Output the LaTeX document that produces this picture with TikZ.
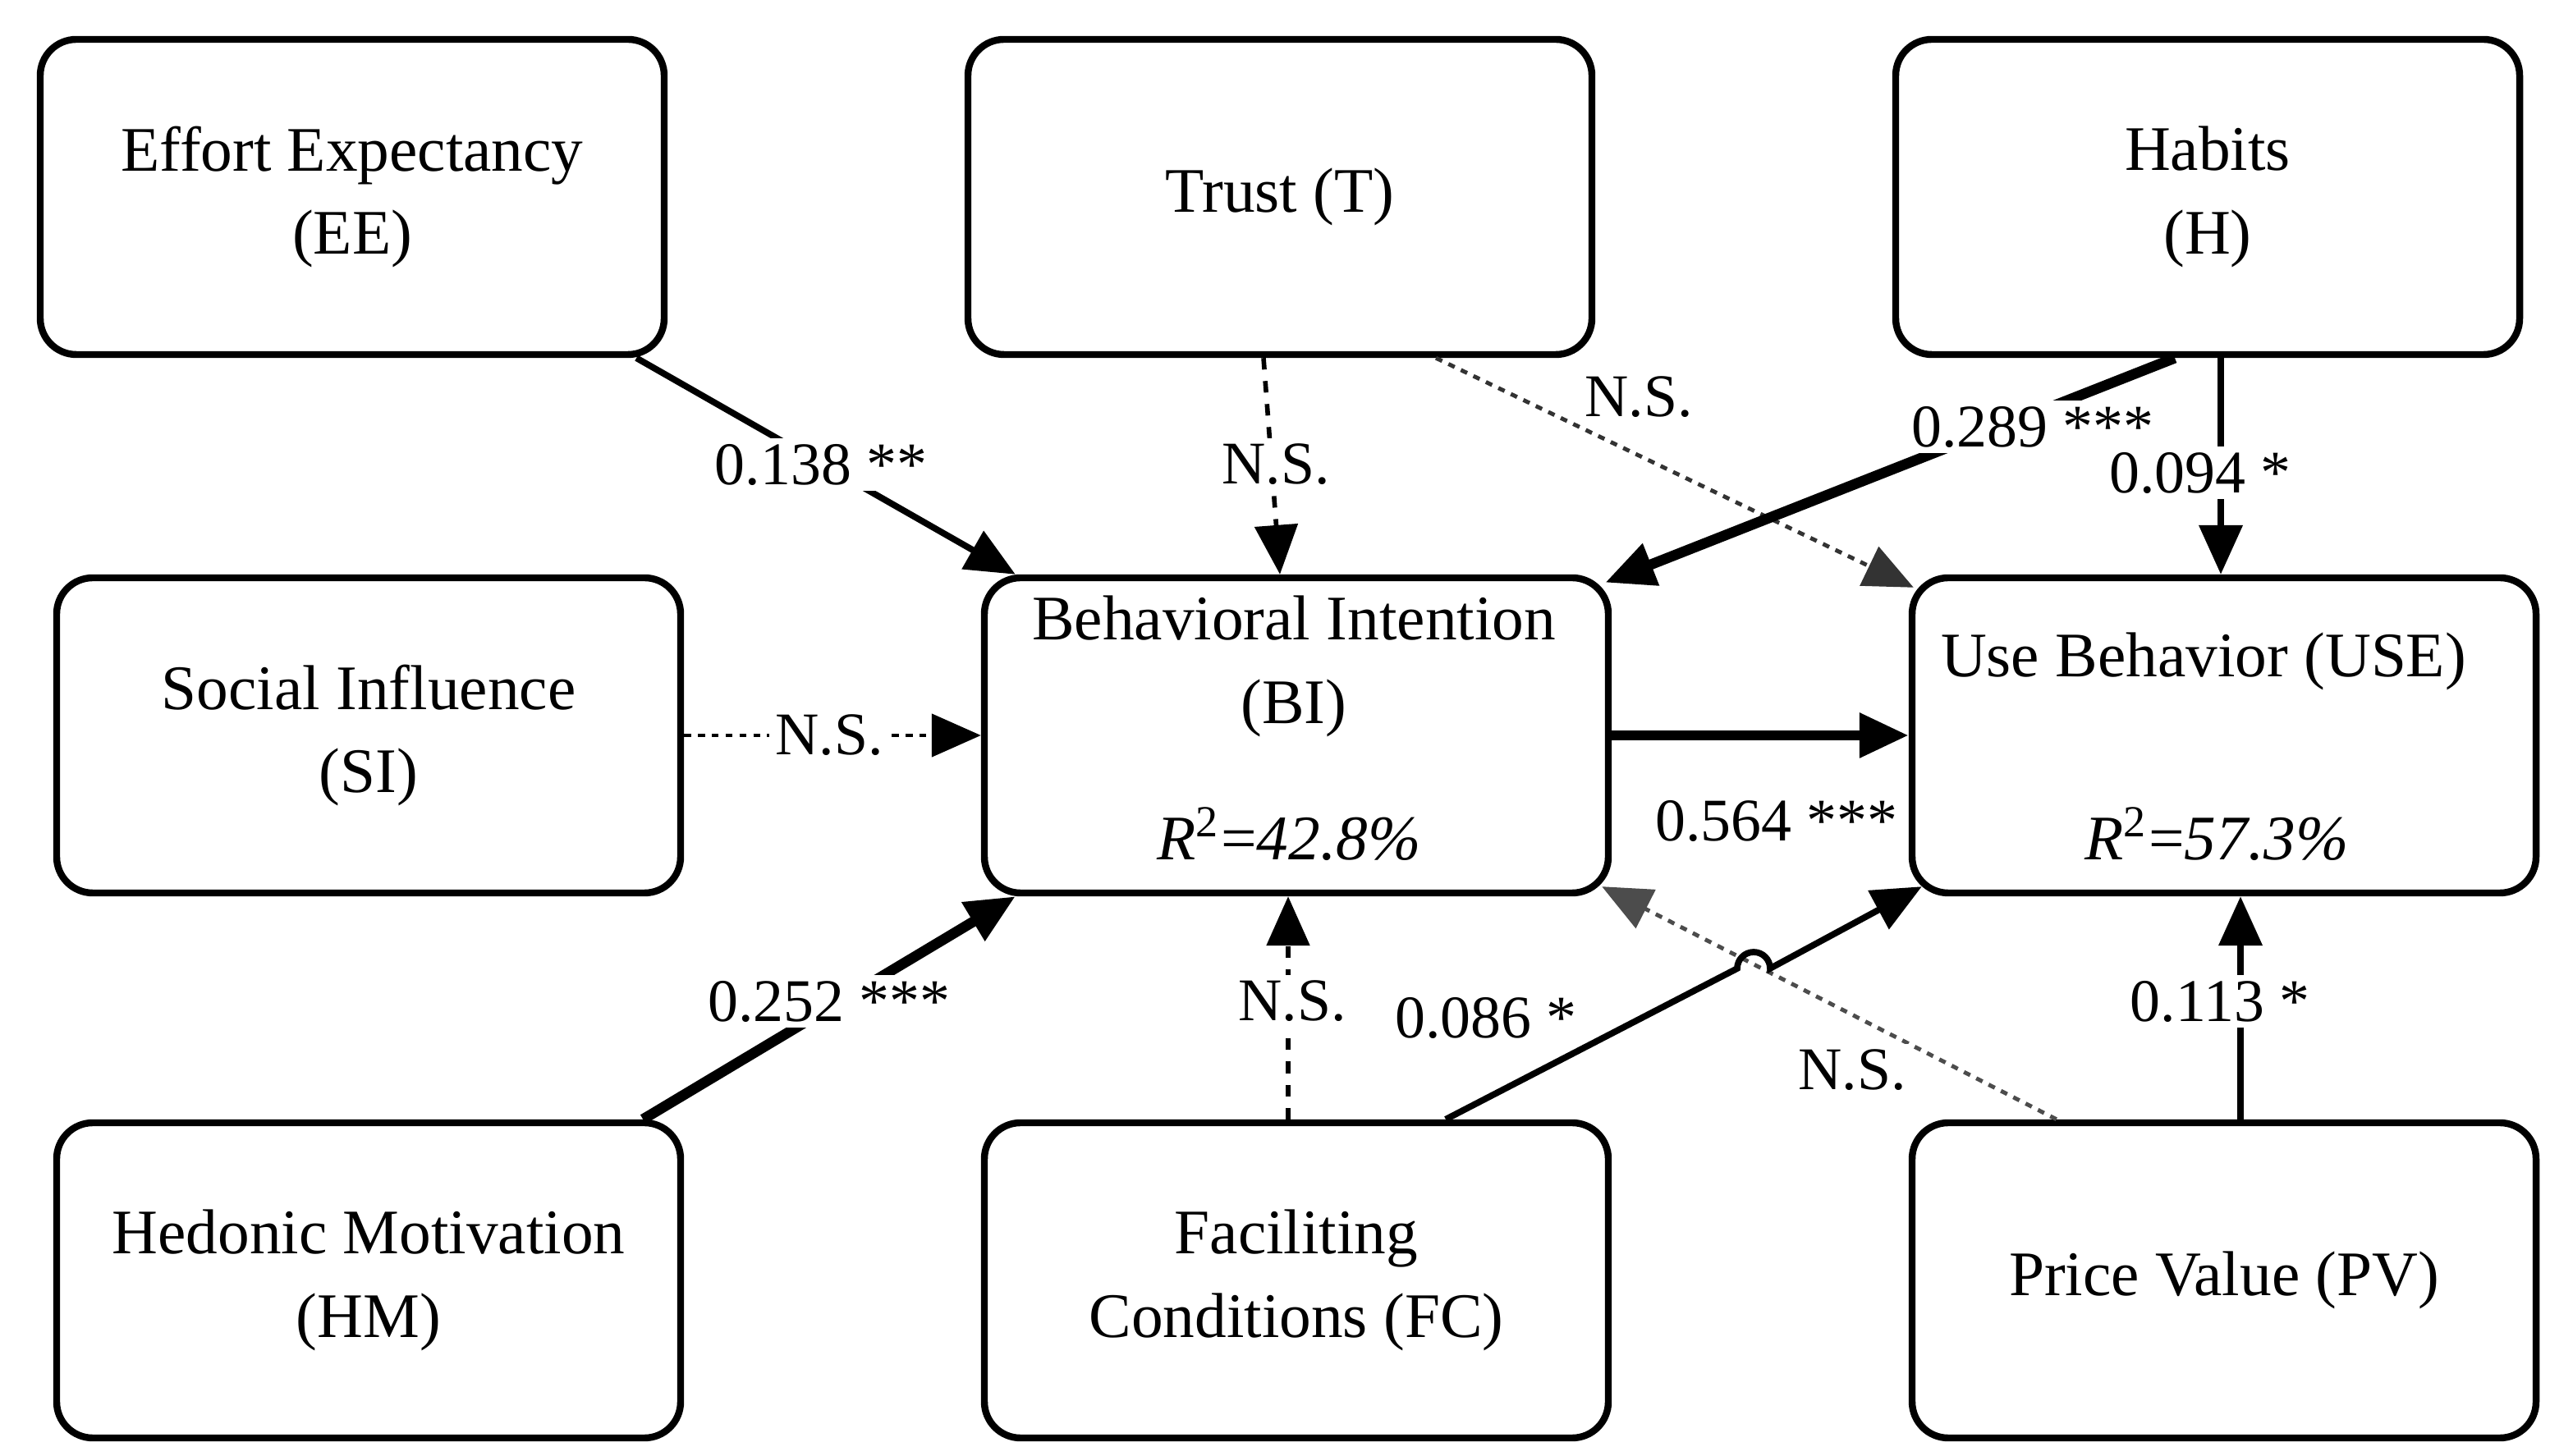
\documentclass[tikz,border=0pt]{standalone}
\usepackage{fontspec}
\setmainfont{Liberation Serif}
\usetikzlibrary{arrows.meta}
\begin{document}
\begin{tikzpicture}[
  box/.style={draw, line width=1.2pt, rounded corners=0.22cm, minimum width=3.80cm, minimum height=1.92cm, align=center, font=\fontsize{11}{14.5}\selectfont, inner sep=0pt},
  tip/.style={-{Triangle[length=0.3cm,width=0.26cm]}},
  lab/.style={font=\fontsize{10.5}{12}\selectfont, inner sep=1pt, fill=white},
  sol/.style={tip, line width=1.1pt},
  thk/.style={tip, line width=1.8pt},
  dsh/.style={tip, line width=0.8pt, dash pattern=on 2pt off 2pt},
  dot/.style={tip, line width=0.7pt, dash pattern=on 1.2pt off 1.2pt, draw=black!70}
]
\useasboundingbox (0,0) rectangle (15.53,-8.87);
\node[box] (ee) at (2.145,-1.20) {Effort Expectancy\\(EE)};
\node[box] (t) at (7.795,-1.20) {Trust (T)};
\node[box] (h) at (13.445,-1.20) {Habits\\(H)};
\node[box] (si) at (2.245,-4.48) {Social Influence\\(SI)};
\node[box] (bi) at (7.895,-4.48) {};
\node[box] (use) at (13.545,-4.48) {};
\node[box] (hm) at (2.245,-7.80) {Hedonic Motivation\\(HM)};
\node[box] (fc) at (7.895,-7.80) {Faciliting\\Conditions (FC)};
\node[box] (pv) at (13.545,-7.80) {Price Value (PV)};
\node[font=\fontsize{11}{14.5}\selectfont, align=center] (bit) at (7.88,-4.06) {Behavioral Intention\\(BI)};
\node[font=\fontsize{11}{14.5}\selectfont] (bir) at (7.85,-5.08) {\textit{R}\textsuperscript{2}=\textit{42.8\%}};
\node[font=\fontsize{11}{14.5}\selectfont] (uset) at (13.42,-4.03) {Use Behavior (USE)};
\node[font=\fontsize{11}{14.5}\selectfont] (user) at (13.50,-5.08) {\textit{R}\textsuperscript{2}=\textit{57.3\%}};

\draw[sol] ([xshift=-0.19cm]ee.south east) -- ([xshift=0.21cm]bi.north west);
\node[lab] (l1) at (5.00,-2.83) {0.138 **};
\draw[dsh] ([xshift=-0.1cm]t.south) -- ([xshift=-0.1cm]bi.north);
\node[lab] (l2) at (7.77,-2.83) {N.S.};
\draw[dot, draw=black!80] ([xshift=0.95cm]t.south) -- ([xshift=0.03cm,yshift=-0.08cm]use.north west);
\node[lab] (l3) at (9.98,-2.42) {N.S.};
\draw[thk] ([xshift=-0.2cm]h.south) -- ([xshift=-0.04cm,yshift=-0.05cm]bi.north east);
\node[lab] (l4) at (12.38,-2.60) {0.289 ***};
\draw[sol] ([xshift=-0.02cm]use.north |- h.south) -- ([xshift=-0.02cm]use.north);
\node[lab] (l5) at (13.40,-2.88) {0.094 *};
\draw[dot, draw=black] (si.east) -- (bi.west);
\node[lab] (l6) at (5.05,-4.48) {N.S.};
\draw[thk] (bi.east) -- (use.east -| use.west);
\node[lab, fill=none] (l7) at (10.82,-5.00) {0.564 ***};
\draw[thk] ([xshift=-0.25cm]hm.north east) -- ([xshift=0.21cm]bi.south west);
\node[lab] (l8) at (5.05,-6.10) {0.252 ***};
\draw[dsh] ([xshift=-0.05cm]fc.north) -- ([xshift=-0.05cm]bi.south);
\node[lab] (l9) at (7.87,-6.10) {N.S.};
\draw[dot] ([xshift=0.9cm]pv.north west) -- ([xshift=-0.06cm,yshift=0.06cm]bi.south east);
\node[lab] (l10) at (11.28,-6.52) {N.S.};
\draw[sol] ([xshift=-0.07cm]fc.north) ++(0.98,0) -- (10.58,-5.90) arc[start angle=180, end angle=0, radius=0.1] -- ([xshift=0.08cm,yshift=0.06cm]use.south west);
\node[lab] (l11) at (9.05,-6.20) {0.086 *};
\draw[sol] ([xshift=0.1cm]pv.north) -- ([xshift=0.1cm]use.south);
\node[lab] (l12) at (13.52,-6.10) {0.113 *};
\end{tikzpicture}
\end{document}
